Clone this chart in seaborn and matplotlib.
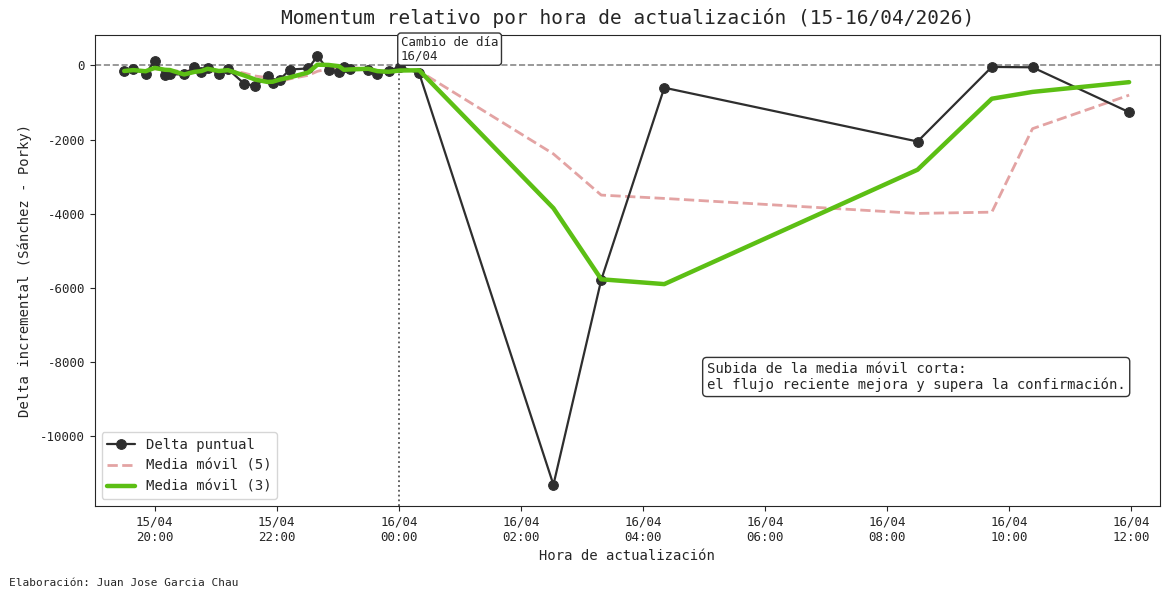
import numpy as np
import pandas as pd
import matplotlib.pyplot as plt
import matplotlib.dates as mdates
import seaborn as sns

# Horas de actualizacion y delta incremental (Sanchez - Porky)
horas = ['2026-04-15 19:30', '2026-04-15 19:39', '2026-04-15 19:51', '2026-04-15 20:00',
         '2026-04-15 20:10', '2026-04-15 20:15', '2026-04-15 20:29', '2026-04-15 20:39',
         '2026-04-15 20:46', '2026-04-15 20:52', '2026-04-15 21:03', '2026-04-15 21:12',
         '2026-04-15 21:28', '2026-04-15 21:39', '2026-04-15 21:51', '2026-04-15 21:56',
         '2026-04-15 22:03', '2026-04-15 22:13', '2026-04-15 22:31', '2026-04-15 22:40',
         '2026-04-15 22:51', '2026-04-15 23:01', '2026-04-15 23:06', '2026-04-15 23:12',
         '2026-04-15 23:30', '2026-04-15 23:39', '2026-04-15 23:50', '2026-04-16 00:01',
         '2026-04-16 00:20', '2026-04-16 02:32', '2026-04-16 03:19', '2026-04-16 04:21',
         '2026-04-16 08:30', '2026-04-16 09:43', '2026-04-16 10:23', '2026-04-16 11:58']
delta = [-150, -100, -220, 120,
         -250, -240, -240, -40,
         -170, -60, -220, -100,
         -490, -555, -290, -470,
         -380, -110, -80, 250,
         -130, -180, -40, -100,
         -130, -230, -150, -30,
         -210, -11300, -5780, -600,
         -2050, -40, -50, -1260]

df = pd.DataFrame({'hora': pd.to_datetime(horas), 'delta': delta})
df['mm5'] = df['delta'].rolling(5, min_periods=1).mean()
df['mm3'] = df['delta'].rolling(3, min_periods=1).mean()

sns.set_style('ticks')
plt.rcParams['font.family'] = ['DejaVu Sans Mono']
plt.rcParams['axes.unicode_minus'] = False

fig = plt.figure(figsize=(11.69, 5.99), dpi=100)
ax = fig.add_axes([0.081, 0.155, 0.911, 0.787])

ax.axhline(0, color='#888888', linestyle='--', linewidth=1.2, zorder=1)
cambio = pd.Timestamp('2026-04-16 00:00')
ax.axvline(cambio, color='#555555', linestyle=':', linewidth=1.3, zorder=1)

sns.lineplot(data=df, x='hora', y='delta', ax=ax, color='#2e2e2e', linewidth=1.6,
             marker='o', markersize=7, markeredgecolor='#2e2e2e', label='Delta puntual', zorder=3)
sns.lineplot(data=df, x='hora', y='mm5', ax=ax, color='#e3a3a3', linewidth=2.0,
             linestyle='--', label='Media móvil (5)', zorder=2)
sns.lineplot(data=df, x='hora', y='mm3', ax=ax, color='#5cbf14', linewidth=3.2,
             label='Media móvil (3)', zorder=4)

ax.set_xlim(pd.Timestamp('2026-04-15 19:01'), pd.Timestamp('2026-04-16 12:28'))
ax.xaxis.set_major_locator(mdates.HourLocator(byhour=range(0, 24, 2)))
ax.xaxis.set_major_formatter(mdates.DateFormatter('%d/%m\n%H:%M'))
ax.tick_params(labelsize=9)

ax.set_title('Momentum relativo por hora de actualización (15-16/04/2026)', fontsize=14, pad=8)
ax.set_xlabel('Hora de actualización', fontsize=10)
ax.set_ylabel('Delta incremental (Sánchez - Porky)', fontsize=10, labelpad=6)

ax.text(cambio + pd.Timedelta(minutes=2), 790, 'Cambio de día\n16/04', fontsize=9,
        va='top', ha='left', linespacing=1.0,
        bbox=dict(boxstyle='round,pad=0.25', fc='white', ec='#333333'))
ax.text(0.968, 0.274, 'Subida de la media móvil corta:\nel flujo reciente mejora y supera la confirmación.',
        transform=ax.transAxes, fontsize=10, ha='right', va='center', multialignment='left',
        bbox=dict(boxstyle='round,pad=0.3', fc='white', ec='#333333'))

ax.legend(loc='lower left', fontsize=10, frameon=True)

fig.text(0.008, 0.022, 'Elaboración: Juan Jose Garcia Chau', fontsize=8, ha='left')

fig.savefig('out.png', dpi=100)
